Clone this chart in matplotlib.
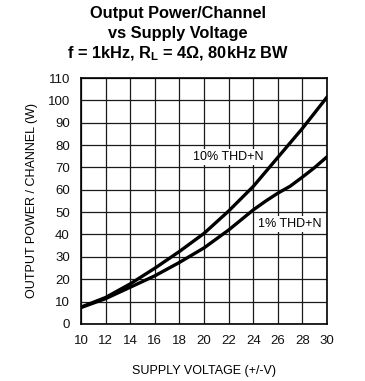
import numpy as np
import matplotlib
matplotlib.use("Agg")
import matplotlib.pyplot as plt

# values
supply_v = [10, 12, 14, 16, 18, 20, 22, 23, 24, 25, 26, 27, 28, 29, 30]
thd_10 = [7.5, 11.8, 17.9, 24.9, 32.4, 40.5, 50.5, 56.0, 61.5, 68.0, 74.5, 81.0, 87.5, 94.5, 101.5]
thd_1 = [7.3, 11.3, 16.4, 21.5, 27.5, 34.0, 42.0, 46.5, 51.0, 54.9, 58.5, 61.6, 65.7, 70.0, 74.8]

x_ticks = list(range(10, 31, 2))
y_ticks = list(range(0, 111, 10))

plt.rcParams['font.family'] = ['Liberation Sans', 'DejaVu Sans']
plt.rcParams['mathtext.fontset'] = 'custom'
plt.rcParams['mathtext.rm'] = 'Liberation Sans:bold'

fig = plt.figure(figsize=(3.65, 3.81), dpi=100)
ax = fig.add_axes([0.222, 0.150, 0.674, 0.645])

ax.plot(supply_v, thd_10, color='black', linewidth=2.4, zorder=3)
ax.plot(supply_v, thd_1, color='black', linewidth=2.4, zorder=3)

ax.set_xlim(10, 30)
ax.set_ylim(0, 110)
ax.set_xticks(x_ticks)
ax.set_yticks(y_ticks)
ax.grid(True, color='#1a1a1a', linewidth=0.9)
ax.tick_params(length=0, labelsize=9.5, pad=8, colors='#111111')
for s in ax.spines.values():
    s.set_linewidth(1.2)

ax.text(21.95, 74.7, "10% THD+N", fontsize=9, ha='center', va='center', zorder=4,
        bbox=dict(facecolor='white', edgecolor='none', pad=1.5))
ax.text(27.0, 44.7, "1% THD+N", fontsize=9, ha='center', va='center', zorder=4,
        bbox=dict(facecolor='white', edgecolor='none', pad=1.5))

ax.set_xlabel("SUPPLY VOLTAGE (+/-V)", fontsize=9, labelpad=13)
ax.set_ylabel("OUTPUT POWER / CHANNEL (W)", fontsize=9, labelpad=7)

fig.text(0.488, 0.965, "Output Power/Channel", fontsize=11.8, fontweight='bold', ha='center', va='center')
fig.text(0.488, 0.912, "vs Supply Voltage", fontsize=11.8, fontweight='bold', ha='center', va='center')
fig.text(0.488, 0.860, r"f = 1kHz, $\mathrm{R_L}$ = 4Ω, 80kHz BW", fontsize=11.8, fontweight='bold',
         ha='center', va='center')

fig.savefig("out.png", dpi=100, facecolor='white')
